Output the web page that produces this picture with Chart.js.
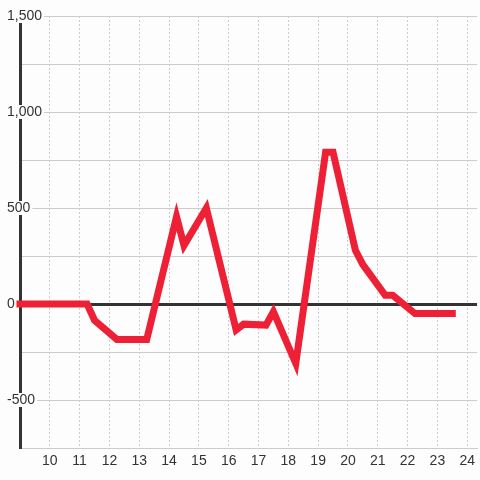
<!DOCTYPE html>
<html>
<head>
<meta charset="utf-8">
<script src="https://cdn.jsdelivr.net/npm/chart.js@4/dist/chart.umd.min.js"></script>
<style>
  html, body { margin: 0; padding: 0; background: #fcfdfc; }
  #wrap { width: 480px; height: 480px; position: relative; }
</style>
</head>
<body>
<div id="wrap"><canvas id="c" width="480" height="480"></canvas></div>
<script>
// Data
const xValues = [9, 11.25, 11.5, 12.25, 13.25, 14.25, 14.5, 15.25, 16.25, 16.5, 17.25, 17.5, 18.25, 19.25, 19.5, 20.25, 20.5, 21.25, 21.5, 22.25, 23.5];
const yValues = [0, 0, -85, -185, -185, 455, 305, 500, -135, -105, -110, -40, -310, 790, 790, 280, 205, 45, 45, -50, -50];
const xTickValues = [10, 11, 12, 13, 14, 15, 16, 17, 18, 19, 20, 21, 22, 23, 24];
const yLabeledTicks = [-500, 0, 500, 1000, 1500];

const points = xValues.map((x, i) => ({ x: x, y: yValues[i] }));
const BG = '#fcfdfc';

new Chart(document.getElementById('c'), {
  type: 'line',
  data: {
    datasets: [{
      data: points,
      borderColor: '#ee2036',
      borderWidth: 7,
      pointRadius: 0,
      tension: 0,
      borderJoinStyle: 'miter',
      borderCapStyle: 'square',
      clip: false
    }]
  },
  options: {
    responsive: false,
    animation: false,
    layout: { padding: { top: 16, left: 0, right: 0, bottom: 0 } },
    plugins: { legend: { display: false }, tooltip: { enabled: false } },
    scales: {
      x: {
        type: 'linear',
        min: 9,
        max: 24.33,
        afterBuildTicks: (scale) => { scale.ticks = xTickValues.map(v => ({ value: v })); },
        grid: { color: '#cccccc', lineWidth: 1, drawTicks: false },
        border: { display: true, color: '#cccccc', width: 1, dash: [2, 2] },
        ticks: {
          color: '#333333',
          font: { family: 'Liberation Sans, Arial, sans-serif', size: 14 },
          padding: 5,
          maxRotation: 0,
          autoSkip: false
        },
        afterFit: (scale) => { scale.height = 32; }
      },
      y: {
        type: 'linear',
        min: -750,
        max: 1500,
        ticks: {
          stepSize: 250,
          color: '#333333',
          font: { family: 'Liberation Sans, Arial, sans-serif', size: 14, lineHeight: 1 },
          mirror: true,
          crossAlign: 'near',
          padding: -13,
          showLabelBackdrop: true,
          backdropColor: BG,
          backdropPadding: { left: 2, right: 2, top: 0, bottom: 0 },
          callback: (v) => yLabeledTicks.includes(v) ? v.toLocaleString('en-US') : ''
        },
        grid: {
          drawTicks: false,
          color: (ctx) => (ctx.tick && ctx.tick.value === 0) ? '#333333' : '#cccccc',
          lineWidth: (ctx) => (ctx.tick && ctx.tick.value === 0) ? 3 : 1
        },
        border: { display: true, color: '#333333', width: 3 },
        afterFit: (scale) => { scale.width = 20; }
      }
    }
  },
  plugins: [{
    id: 'bg',
    beforeDraw: (chart) => {
      const ctx = chart.ctx;
      ctx.save();
      ctx.fillStyle = BG;
      ctx.fillRect(0, 0, chart.width, chart.height);
      ctx.restore();
    }
  }]
});
</script>
</body>
</html>
